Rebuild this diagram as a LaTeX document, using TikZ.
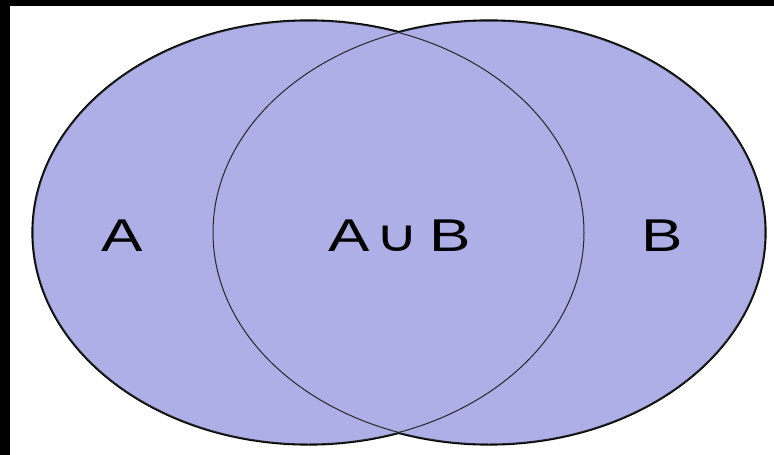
\documentclass[tikz,border=0pt]{standalone}
\usepackage{fontspec}
\setmainfont{Liberation Sans}
\newfontfamily\symfont{DejaVu Sans}
\usepackage{tikz}
\usetikzlibrary{positioning}
\definecolor{setfill}{RGB}{175,175,232}

\begin{document}
\begin{tikzpicture}[x=1pt,y=-1pt,
  setlabel/.style={font=\fontsize{46}{50}\selectfont,inner sep=0pt,xscale=1.35}]
\useasboundingbox (0,0) rectangle (774,455);
\fill[white] (0,0) rectangle (774,455);
\fill[black] (0,0) rectangle (774,6);
\fill[black] (0,0) rectangle (10,455);
% outer rim, then fill, then thin inner arcs
\draw[line width=3.2pt] (308.5,232.5) ellipse [x radius=275.5, y radius=211.5];
\draw[line width=3.2pt] (489,232.5) ellipse [x radius=276, y radius=211.5];
\fill[setfill] (308.5,232.5) ellipse [x radius=275.5, y radius=211.5];
\fill[setfill] (489,232.5) ellipse [x radius=276, y radius=211.5];
\draw[line width=1pt,black!85] (308.5,232.5) ellipse [x radius=275.5, y radius=211.5];
\draw[line width=1pt,black!85] (489,232.5) ellipse [x radius=276, y radius=211.5];
\node[setlabel] (setA) at (122,236) {A};
\node[setlabel] (setAuB) at (400,236) {A\kern4pt{\symfont\fontsize{44}{48}\selectfont ∪}\kern8pt B};
\node[setlabel] (setB) at (662,236) {B};
\end{tikzpicture}
\end{document}
